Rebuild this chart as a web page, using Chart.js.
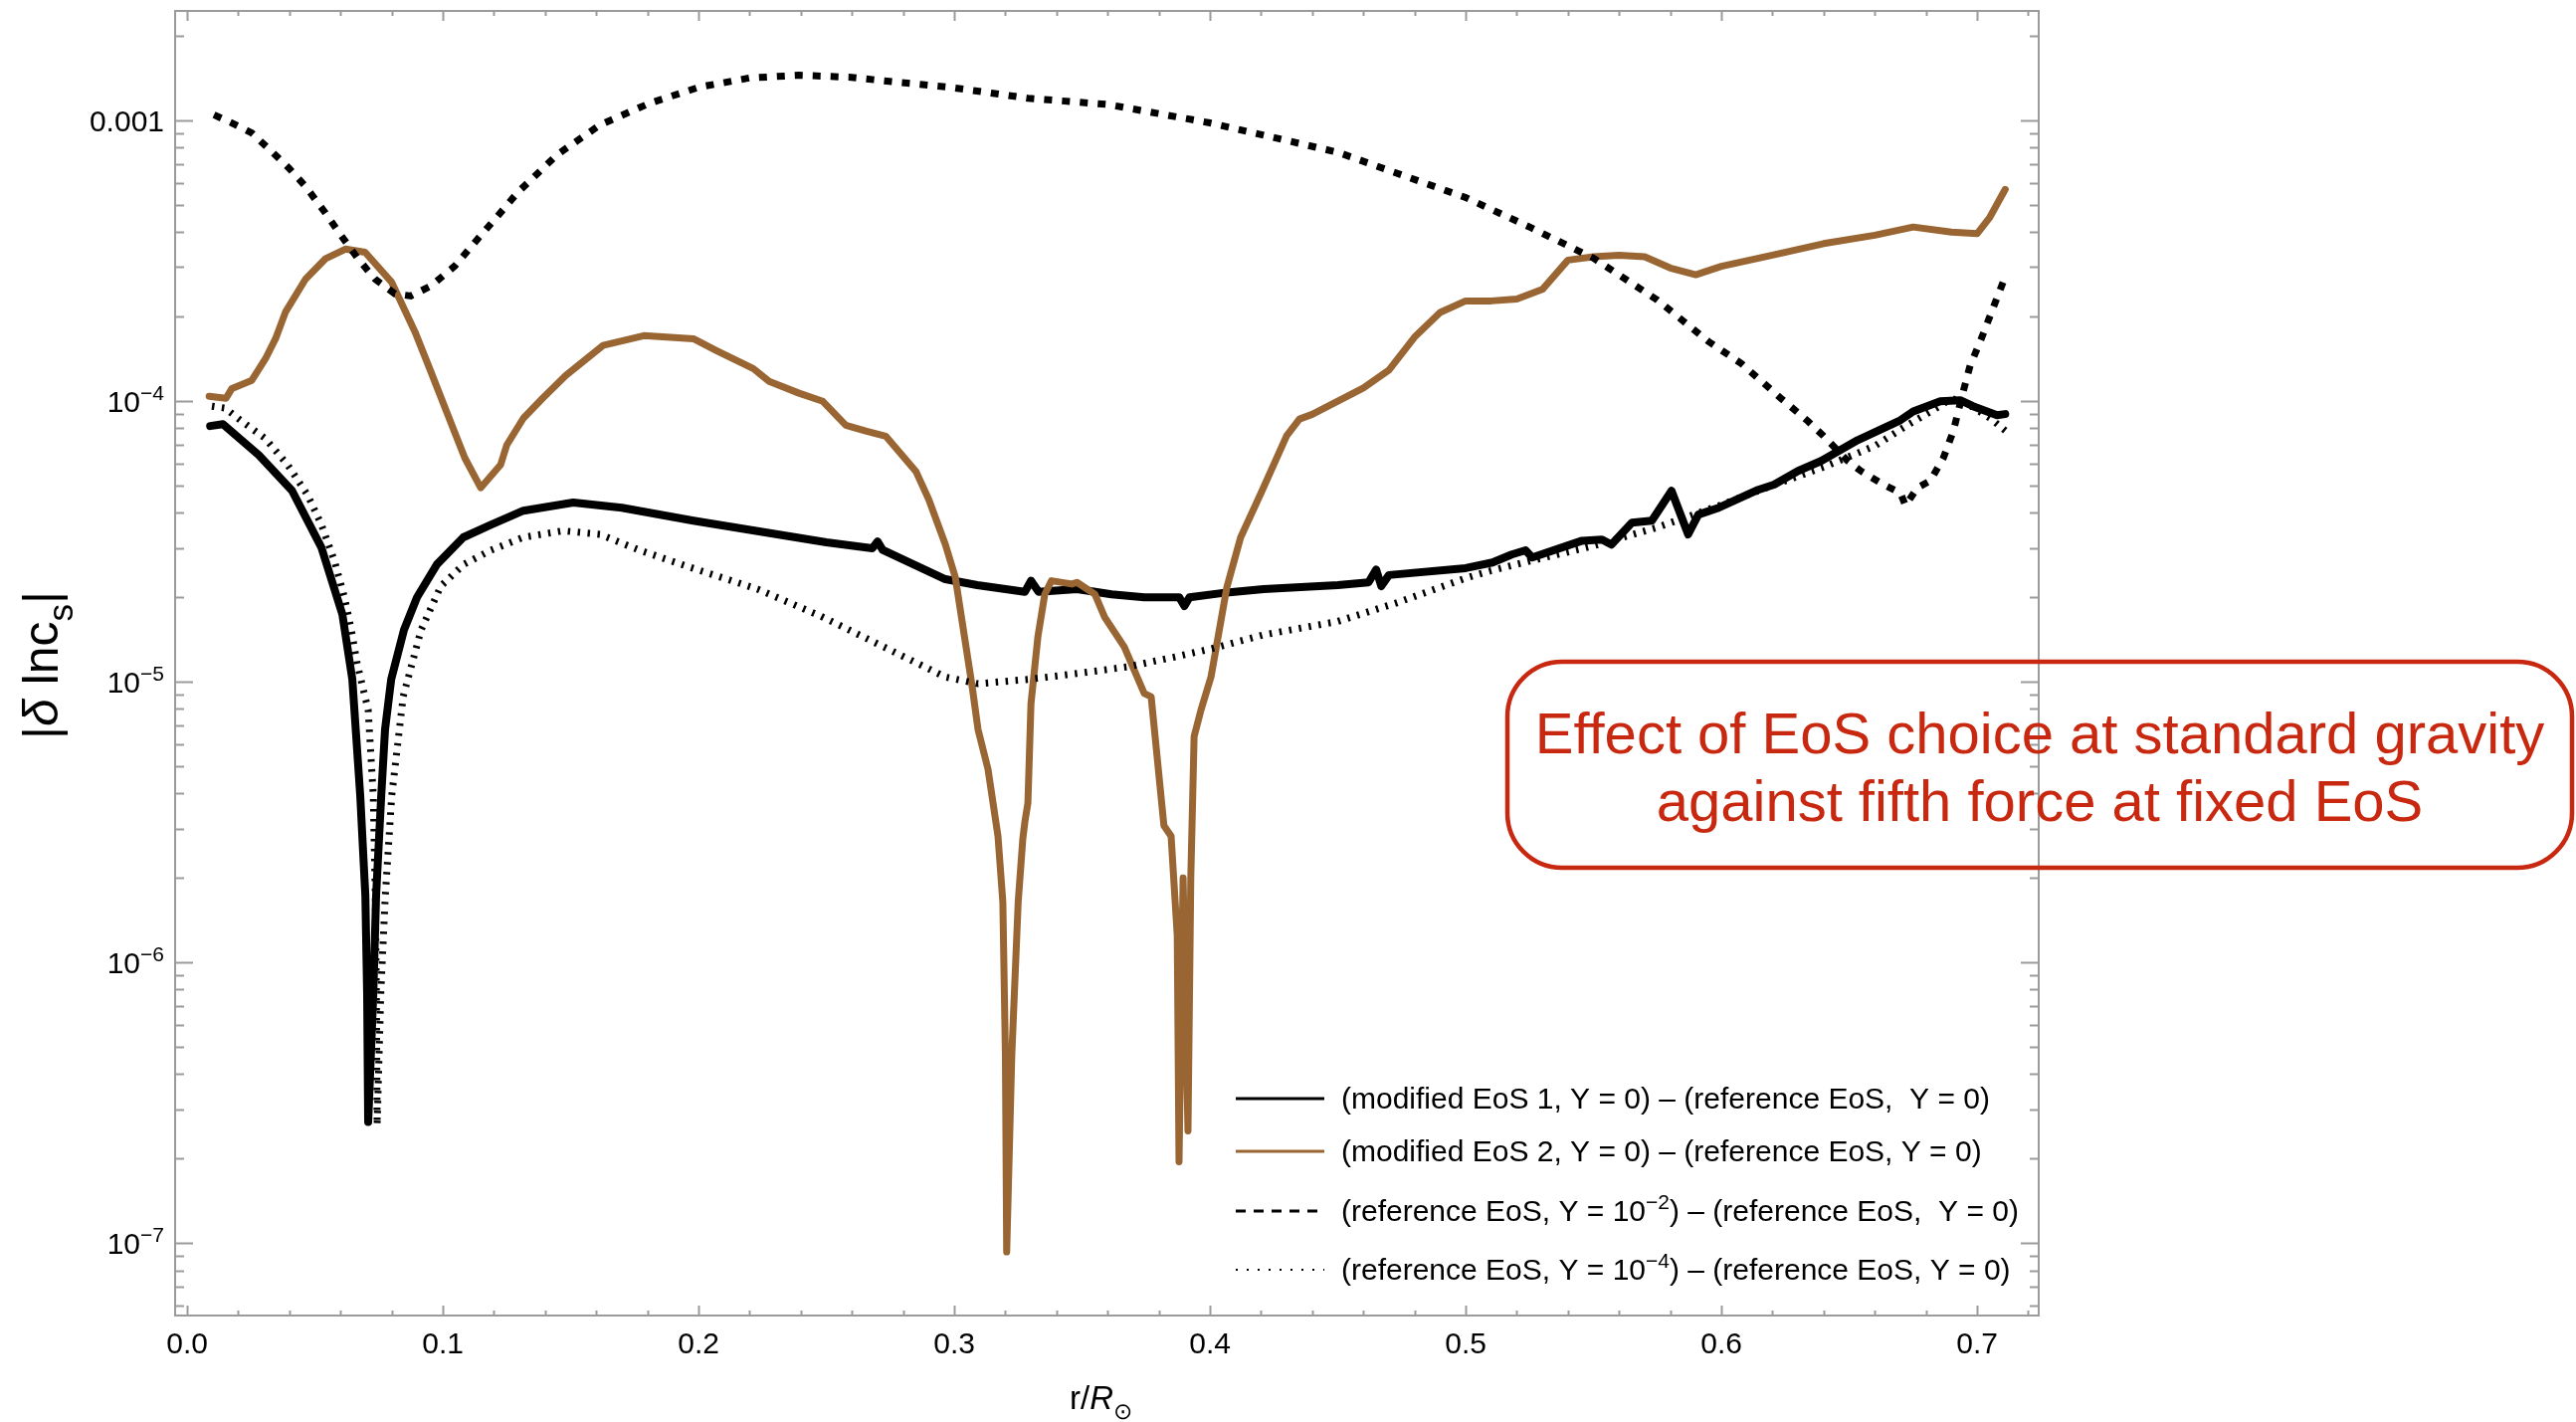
<!DOCTYPE html>
<html>
<head>
<meta charset="utf-8">
<title>|δ ln c_s| against r/R⊙</title>
<script src="https://cdn.jsdelivr.net/npm/chart.js@4.4.1/dist/chart.umd.min.js"></script>
<style>
  html, body { margin: 0; padding: 0; background: #fff; }
  #wrap { width: 2589px; height: 1429px; }
</style>
</head>
<body>
<div id="wrap"><canvas id="csChart" width="2589" height="1429"></canvas></div>
<script>
// values: r/R_sun and |delta ln c_s|
const eos1R = [0.009, 0.014, 0.028, 0.041, 0.0525, 0.0607, 0.0646, 0.0677, 0.0697, 0.0704, 0.0708, 0.0728, 0.0739, 0.0759, 0.0774, 0.0798, 0.0848, 0.0899, 0.0977, 0.108, 0.119, 0.1315, 0.151, 0.170, 0.198, 0.25, 0.268, 0.27, 0.272, 0.2965, 0.309, 0.3276, 0.33, 0.333, 0.348, 0.3615, 0.3743, 0.388, 0.39, 0.392, 0.4066, 0.421, 0.45, 0.462, 0.465, 0.467, 0.47, 0.5, 0.5105, 0.518, 0.5234, 0.526, 0.5455, 0.5533, 0.557, 0.565, 0.5728, 0.5805, 0.587, 0.591, 0.599, 0.6144, 0.6206, 0.63, 0.639, 0.6533, 0.670, 0.675, 0.6856, 0.6934, 0.6984, 0.7078, 0.711];
const eos1Vals = [8.15e-5, 8.28e-5, 6.43e-5, 4.80e-5, 3.01e-5, 1.74e-5, 1.02e-5, 3.92e-6, 1.73e-6, 7.67e-7, 2.70e-7, 7.67e-7, 1.73e-6, 3.92e-6, 6.76e-6, 1.02e-5, 1.53e-5, 2.0e-5, 2.62e-5, 3.27e-5, 3.63e-5, 4.07e-5, 4.35e-5, 4.17e-5, 3.75e-5, 3.14e-5, 2.99e-5, 3.16e-5, 2.95e-5, 2.32e-5, 2.21e-5, 2.09e-5, 2.29e-5, 2.09e-5, 2.14e-5, 2.05e-5, 2.0e-5, 2.0e-5, 1.86e-5, 2.0e-5, 2.08e-5, 2.14e-5, 2.21e-5, 2.26e-5, 2.51e-5, 2.19e-5, 2.40e-5, 2.54e-5, 2.66e-5, 2.84e-5, 2.94e-5, 2.77e-5, 3.18e-5, 3.21e-5, 3.08e-5, 3.69e-5, 3.75e-5, 4.79e-5, 3.35e-5, 3.94e-5, 4.17e-5, 4.83e-5, 5.04e-5, 5.64e-5, 6.12e-5, 7.26e-5, 8.55e-5, 9.18e-5, 9.98e-5, 1.007e-4, 9.59e-5, 8.91e-5, 8.99e-5];

const eos2R = [0.0086, 0.0152, 0.0175, 0.0253, 0.0307, 0.0346, 0.0385, 0.0463, 0.054, 0.0619, 0.0696, 0.080, 0.0891, 0.0953, 0.102, 0.1086, 0.1148, 0.1226, 0.125, 0.1315, 0.139, 0.148, 0.1626, 0.1786, 0.198, 0.207, 0.2214, 0.2276, 0.2393, 0.2486, 0.2576, 0.2654, 0.2732, 0.2782, 0.285, 0.29, 0.2965, 0.3004, 0.307, 0.3093, 0.3132, 0.3171, 0.319, 0.32, 0.3205, 0.3225, 0.325, 0.3268, 0.3276, 0.3288, 0.330, 0.3327, 0.3354, 0.338, 0.346, 0.348, 0.355, 0.3588, 0.3665, 0.3743, 0.377, 0.382, 0.3848, 0.3872, 0.3879, 0.3895, 0.3914, 0.3925, 0.3938, 0.3965, 0.4004, 0.4066, 0.412, 0.42, 0.43, 0.435, 0.44, 0.45, 0.46, 0.47, 0.48, 0.49, 0.50, 0.51, 0.52, 0.53, 0.54, 0.55, 0.56, 0.57, 0.58, 0.59, 0.60, 0.62, 0.64, 0.66, 0.675, 0.69, 0.70, 0.705, 0.711];
const eos2Vals = [1.04e-4, 1.023e-4, 1.109e-4, 1.186e-4, 1.419e-4, 1.671e-4, 2.08e-4, 2.72e-4, 3.21e-4, 3.48e-4, 3.39e-4, 2.65e-4, 1.766e-4, 1.274e-4, 8.91e-5, 6.27e-5, 4.91e-5, 5.93e-5, 6.97e-5, 8.69e-5, 1.023e-4, 1.233e-4, 1.578e-4, 1.71e-4, 1.667e-4, 1.514e-4, 1.306e-4, 1.175e-4, 1.067e-4, 9.98e-5, 8.2e-5, 7.82e-5, 7.5e-5, 6.64e-5, 5.62e-5, 4.47e-5, 3.09e-5, 2.36e-5, 9.62e-6, 6.76e-6, 4.88e-6, 2.82e-6, 1.64e-6, 4.70e-7, 9.3e-8, 4.68e-7, 1.64e-6, 2.75e-6, 3.16e-6, 3.70e-6, 8.36e-6, 1.445e-5, 2.05e-5, 2.29e-5, 2.23e-5, 2.26e-5, 2.05e-5, 1.70e-5, 1.33e-5, 9.08e-6, 8.85e-6, 3.07e-6, 2.82e-6, 1.25e-6, 1.95e-7, 2.0e-6, 2.51e-7, 2.0e-6, 6.38e-6, 7.94e-6, 1.04e-5, 2.17e-5, 3.27e-5, 4.71e-5, 7.53e-5, 8.63e-5, 8.97e-5, 1.0e-4, 1.114e-4, 1.291e-4, 1.69e-4, 2.07e-4, 2.275e-4, 2.275e-4, 2.31e-4, 2.50e-4, 3.18e-4, 3.27e-4, 3.31e-4, 3.27e-4, 2.98e-4, 2.82e-4, 3.02e-4, 3.31e-4, 3.64e-4, 3.90e-4, 4.17e-4, 4.0e-4, 3.95e-4, 4.52e-4, 5.68e-4];

const fifth2R = [0.0105, 0.0175, 0.0253, 0.0331, 0.0397, 0.0463, 0.054, 0.0603, 0.0669, 0.0735, 0.0813, 0.0875, 0.0953, 0.1047, 0.1136, 0.1214, 0.1292, 0.1447, 0.1615, 0.181, 0.2004, 0.2198, 0.2393, 0.2588, 0.2782, 0.2977, 0.3288, 0.36, 0.40, 0.45, 0.50, 0.525, 0.55, 0.575, 0.595, 0.6078, 0.6233, 0.6339, 0.640, 0.6494, 0.6545, 0.6634, 0.670, 0.672, 0.6766, 0.6817, 0.6868, 0.6907, 0.6946, 0.6973, 0.7012, 0.7105];
const fifth2Vals = [1.047e-3, 9.79e-4, 9.02e-4, 7.74e-4, 6.78e-4, 5.82e-4, 4.69e-4, 3.88e-4, 3.21e-4, 2.72e-4, 2.41e-4, 2.37e-4, 2.57e-4, 3.03e-4, 3.78e-4, 4.56e-4, 5.53e-4, 7.55e-4, 9.64e-4, 1.153e-3, 1.315e-3, 1.416e-3, 1.449e-3, 1.426e-3, 1.368e-3, 1.315e-3, 1.2e-3, 1.14e-3, 9.8e-4, 7.7e-4, 5.31e-4, 4.17e-4, 3.23e-4, 2.29e-4, 1.629e-4, 1.361e-4, 1.023e-4, 8.47e-5, 7.5e-5, 6.12e-5, 5.64e-5, 5.04e-5, 4.71e-5, 4.24e-5, 4.91e-5, 5.2e-5, 6.27e-5, 7.82e-5, 1.084e-4, 1.34e-4, 1.629e-4, 2.70e-4];

const fifth4R = [0.0097, 0.0148, 0.0214, 0.0304, 0.0393, 0.0471, 0.0525, 0.0576, 0.0615, 0.0642, 0.0665, 0.0708, 0.0728, 0.0736, 0.0740, 0.0743, 0.0757, 0.0775, 0.0800, 0.0845, 0.0915, 0.0992, 0.1082, 0.1187, 0.1315, 0.147, 0.1615, 0.177, 0.1965, 0.223, 0.248, 0.274, 0.2965, 0.3093, 0.329, 0.348, 0.3677, 0.387, 0.4004, 0.421, 0.45, 0.473, 0.50, 0.51, 0.525, 0.55, 0.575, 0.60, 0.62, 0.64, 0.66, 0.672, 0.685, 0.69, 0.698, 0.705, 0.711];
const fifth4Vals = [9.59e-5, 9.44e-5, 8.47e-5, 7.38e-5, 5.93e-5, 4.63e-5, 3.63e-5, 2.70e-5, 2.0e-5, 1.53e-5, 1.16e-5, 7.94e-6, 3.92e-6, 1.73e-6, 7.67e-7, 2.63e-7, 7.67e-7, 1.73e-6, 3.92e-6, 8.87e-6, 1.53e-5, 2.19e-5, 2.62e-5, 2.94e-5, 3.27e-5, 3.45e-5, 3.35e-5, 2.94e-5, 2.56e-5, 2.14e-5, 1.71e-5, 1.31e-5, 1.04e-5, 9.84e-6, 1.02e-5, 1.07e-5, 1.13e-5, 1.23e-5, 1.31e-5, 1.47e-5, 1.64e-5, 1.91e-5, 2.34e-5, 2.49e-5, 2.69e-5, 3.05e-5, 3.55e-5, 4.27e-5, 5.01e-5, 5.82e-5, 6.92e-5, 8.13e-5, 9.55e-5, 1.023e-4, 9.55e-5, 8.71e-5, 7.85e-5];

const xTicks = [0, 0.1, 0.2, 0.3, 0.4, 0.5, 0.6, 0.7];
const yTicks = [1e-7, 1e-6, 1e-5, 1e-4, 1e-3];
const yTickLabels = ["10^{−7}", "10^{−6}", "10^{−5}", "10^{−4}", "0.001"];

const FONT = "'Liberation Sans', Arial, Helvetica, sans-serif";
const BROWN = "#996633";
const FRAME = "#9b9b9b";
const RED = "#c8280f";

// tiny markup: ^{..} superscript, _{..} subscript, *..* italic
function parseRich(str) {
  const parts = [];
  const re = /\^\{([^}]*)\}|_\{([^}]*)\}|\*([^*]*)\*/g;
  let last = 0, m;
  while ((m = re.exec(str))) {
    if (m.index > last) parts.push({ t: str.slice(last, m.index) });
    if (m[1] !== undefined) parts.push({ t: m[1], sup: true });
    else if (m[2] !== undefined) parts.push({ t: m[2], sub: true });
    else parts.push({ t: m[3], italic: true });
    last = re.lastIndex;
  }
  if (last < str.length) parts.push({ t: str.slice(last) });
  return parts;
}

function drawRich(ctx, str, x, y, size, align) {
  const parts = parseRich(str);
  const fontOf = (p) => (p.italic ? "italic " : "") +
    Math.round(p.sup || p.sub ? size * 0.7 : size) + "px " + FONT;
  let total = 0;
  parts.forEach((p) => {
    ctx.font = fontOf(p);
    p.w = ctx.measureText(p.t).width;
    total += p.w;
  });
  let cx = align === "center" ? x - total / 2 : align === "right" ? x - total : x;
  ctx.textAlign = "left";
  ctx.textBaseline = "alphabetic";
  parts.forEach((p) => {
    ctx.font = fontOf(p);
    const dy = p.sup ? -size * 0.4 : p.sub ? size * 0.3 : 0;
    ctx.fillText(p.t, cx, y + dy);
    cx += p.w;
  });
}

// Mathematica style frame with inward ticks on all four sides
const frameTicks = {
  id: "frameTicks",
  afterDraw(chart) {
    const { ctx, chartArea: a, scales } = chart;
    const x = scales.x, y = scales.y;
    ctx.save();
    ctx.strokeStyle = FRAME;
    ctx.lineWidth = 2;
    ctx.strokeRect(a.left, a.top, a.right - a.left, a.bottom - a.top);
    ctx.beginPath();
    for (let e = -8; e <= -3; e++) {
      for (let k = 1; k <= 9; k++) {
        const v = k * Math.pow(10, e);
        if (v < y.min || v > y.max) continue;
        const py = Math.round(y.getPixelForValue(v)) + 0.5;
        const len = k === 1 ? 18 : 9;
        ctx.moveTo(a.left, py); ctx.lineTo(a.left + len, py);
        ctx.moveTo(a.right, py); ctx.lineTo(a.right - len, py);
      }
    }
    for (let i = 0; i <= 36; i++) {
      const px = Math.round(x.getPixelForValue(i * 0.02)) + 0.5;
      const len = i % 5 === 0 ? 10 : 5;
      ctx.moveTo(px, a.bottom); ctx.lineTo(px, a.bottom - len);
      ctx.moveTo(px, a.top); ctx.lineTo(px, a.top + len);
    }
    ctx.stroke();

    ctx.fillStyle = "#000";
    // y tick labels with real superscripts
    y.ticks.forEach((t) => {
      const i = yTicks.findIndex((v) => Math.abs(v - t.value) / v < 1e-6);
      if (i < 0) return;
      drawRich(ctx, yTickLabels[i], a.left - 11, y.getPixelForValue(t.value) + 11, 30, "right");
    });

    // axis titles
    drawRich(ctx, "r/*R*_{⊙}", (a.left + a.right) / 2 - 6, 1416, 33, "center");
    ctx.save();
    ctx.translate(58, (a.top + a.bottom) / 2 + 2);
    ctx.rotate(-Math.PI / 2);
    drawRich(ctx, "|*δ* lnc_{s}|", 0, 0, 50, "center");
    ctx.restore();
    ctx.restore();
  }
};

// legend in the lower right of the plot
const legendRows = {
  id: "legendRows",
  afterDraw(chart) {
    const { ctx } = chart;
    const rowsY = [1104, 1157, 1217, 1276];
    const sample = [
      { w: 3, dash: [] },
      { w: 3, dash: [] },
      { w: 3, dash: [10, 8] },
      { w: 2, dash: [2, 9] }
    ];
    ctx.save();
    chart.data.datasets.forEach((ds, i) => {
      const yy = rowsY[i];
      ctx.beginPath();
      ctx.strokeStyle = ds.borderColor;
      ctx.lineWidth = sample[i].w;
      ctx.setLineDash(sample[i].dash);
      ctx.lineCap = "butt";
      ctx.moveTo(1242, yy);
      ctx.lineTo(1331, yy);
      ctx.stroke();
      ctx.setLineDash([]);
      ctx.fillStyle = "#000";
      drawRich(ctx, ds.label, 1348, yy + 10, 30, "left");
    });
    ctx.restore();
  }
};

// red rounded note box
const noteBox = {
  id: "noteBox",
  afterDraw(chart) {
    const { ctx } = chart;
    const bx = 1515, by = 665, bw = 1070, bh = 207, r = 55;
    ctx.save();
    ctx.strokeStyle = RED;
    ctx.lineWidth = 4.5;
    ctx.beginPath();
    ctx.moveTo(bx + r, by);
    ctx.arcTo(bx + bw, by, bx + bw, by + bh, r);
    ctx.arcTo(bx + bw, by + bh, bx, by + bh, r);
    ctx.arcTo(bx, by + bh, bx, by, r);
    ctx.arcTo(bx, by, bx + bw, by, r);
    ctx.closePath();
    ctx.stroke();
    ctx.fillStyle = RED;
    ctx.font = "58px " + FONT;
    ctx.textAlign = "center";
    ctx.textBaseline = "alphabetic";
    ctx.fillText("Effect of EoS choice at standard gravity", bx + bw / 2, 757);
    ctx.fillText("against fifth force at fixed EoS", bx + bw / 2, 825);
    ctx.restore();
  }
};

function points(rs, vals) {
  return rs.map((r, i) => ({ x: r, y: vals[i] }));
}

Chart.defaults.font.family = FONT;
Chart.defaults.color = "#000";

new Chart(document.getElementById("csChart"), {
  type: "line",
  data: {
    datasets: [
      {
        label: "(modified EoS 1, Y = 0) – (reference EoS,  Y = 0)",
        data: points(eos1R, eos1Vals),
        borderColor: "#000",
        borderWidth: 8,
        borderJoinStyle: "round",
        borderCapStyle: "round",
        order: 4
      },
      {
        label: "(modified EoS 2, Y = 0) – (reference EoS, Y = 0)",
        data: points(eos2R, eos2Vals),
        borderColor: BROWN,
        borderWidth: 7,
        borderJoinStyle: "round",
        borderCapStyle: "round",
        order: 3
      },
      {
        label: "(reference EoS, Y = 10^{−2}) – (reference EoS,  Y = 0)",
        data: points(fifth2R, fifth2Vals),
        borderColor: "#000",
        borderWidth: 7,
        borderDash: [8, 10],
        borderCapStyle: "butt",
        order: 2
      },
      {
        label: "(reference EoS, Y = 10^{−4}) – (reference EoS, Y = 0)",
        data: points(fifth4R, fifth4Vals),
        borderColor: "#000",
        borderWidth: 7,
        borderDash: [2.5, 7.5],
        borderCapStyle: "butt",
        order: 1
      }
    ]
  },
  options: {
    responsive: false,
    animation: false,
    devicePixelRatio: 1,
    elements: { point: { radius: 0 }, line: { tension: 0 } },
    layout: { padding: { left: 0, top: 11, right: 540, bottom: 0 } },
    plugins: { legend: { display: false }, tooltip: { enabled: false } },
    scales: {
      x: {
        type: "linear",
        min: -0.0047,
        max: 0.7241,
        grid: { display: false, drawTicks: false },
        border: { display: false },
        afterBuildTicks: (s) => { s.ticks = xTicks.map((v) => ({ value: v })); },
        afterFit: (s) => { s.height = 107; s.paddingLeft = 0; s.paddingRight = 0; },
        ticks: {
          autoSkip: false,
          maxRotation: 0,
          padding: 12,
          font: { size: 30 },
          color: "#000",
          callback: (v) => Number(v).toFixed(1)
        }
      },
      y: {
        type: "logarithmic",
        min: 5.52e-8,
        max: 2.455e-3,
        grid: { display: false, drawTicks: false },
        border: { display: false },
        afterBuildTicks: (s) => { s.ticks = yTicks.map((v) => ({ value: v })); },
        afterFit: (s) => { s.width = 176; s.paddingTop = 0; s.paddingBottom = 0; },
        ticks: { display: false, autoSkip: false }
      }
    }
  },
  plugins: [frameTicks, legendRows, noteBox]
});
</script>
</body>
</html>
